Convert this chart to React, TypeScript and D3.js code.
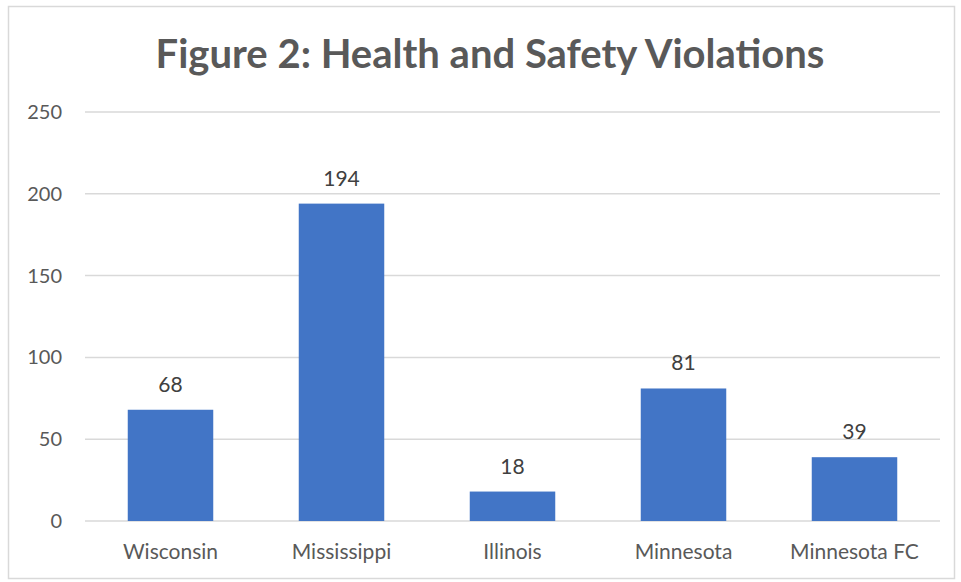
import React from 'react'
import * as d3 from 'd3'

const categories = ['Wisconsin', 'Mississippi', 'Illinois', 'Minnesota', 'Minnesota FC']
const values = [68, 194, 18, 81, 39]
const yTicks = [0, 50, 100, 150, 200, 250]
const title = 'Figure 2: Health and Safety Violations'

const W = 961
const H = 582
const FONT = 'Lato, "Open Sans", sans-serif'

const App = () => {
  const ref = React.useRef<SVGSVGElement>(null)

  React.useEffect(() => {
    const svg = d3.select(ref.current)
    svg.selectAll('*').remove()

    const x = d3.scaleBand().domain(categories).range([85, 940]).paddingInner(0.5).paddingOuter(0.25)
    const y = d3.scaleLinear().domain([0, 250]).range([521, 112])

    svg.append('rect')
      .attr('x', 8.5).attr('y', 6.5).attr('width', 946).attr('height', 572)
      .attr('fill', '#fff').attr('stroke', '#d9d9d9').attr('stroke-width', 1.5)

    svg.append('text')
      .attr('x', 490).attr('y', 68)
      .attr('text-anchor', 'middle')
      .style('font', `bold 40px ${FONT}`)
      .attr('fill', '#595959')
      .text(title)

    svg.append('g').selectAll('line').data(yTicks).join('line')
      .attr('x1', 85).attr('x2', 940)
      .attr('y1', (d) => y(d)).attr('y2', (d) => y(d))
      .attr('stroke', '#d9d9d9').attr('stroke-width', 1.5)

    svg.append('g').selectAll('text').data(yTicks).join('text')
      .attr('x', 62).attr('y', (d) => y(d) + 7)
      .attr('text-anchor', 'end')
      .style('font', `20px ${FONT}`)
      .attr('fill', '#595959')
      .text((d) => d)

    svg.append('g').selectAll('rect').data(values).join('rect')
      .attr('x', (d, i) => x(categories[i]) as number)
      .attr('width', x.bandwidth())
      .attr('y', (d) => y(d))
      .attr('height', (d) => y(0) - y(d))
      .attr('fill', '#4275c6')

    svg.append('g').selectAll('text').data(values).join('text')
      .attr('x', (d, i) => (x(categories[i]) as number) + x.bandwidth() / 2)
      .attr('y', (d) => y(d) - 18)
      .attr('text-anchor', 'middle')
      .style('font', `21px ${FONT}`)
      .attr('fill', '#404040')
      .text((d) => d)

    svg.append('g').selectAll('text').data(categories).join('text')
      .attr('x', (d) => (x(d) as number) + x.bandwidth() / 2)
      .attr('y', 559)
      .attr('text-anchor', 'middle')
      .style('font', `21px ${FONT}`)
      .attr('fill', '#595959')
      .text((d) => d)
  }, [])

  return <svg ref={ref} width={W} height={H} style={{ position: 'absolute', left: 0, top: 0, background: '#fff' }} />
}

export default App
